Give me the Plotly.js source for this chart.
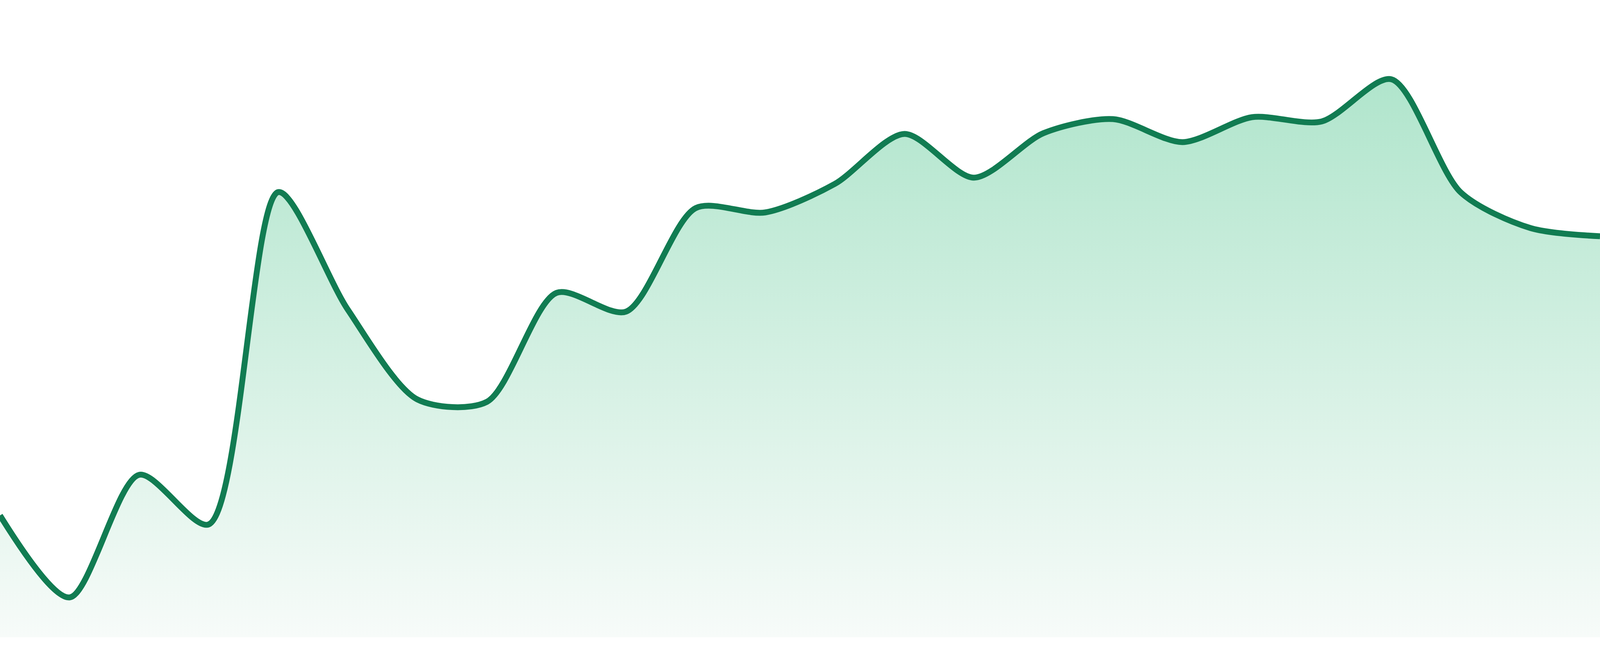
<!DOCTYPE html>
<html>
<head>
<meta charset="utf-8">
<script src="https://cdn.plot.ly/plotly-3.0.1.min.js"></script>
<style>
  html, body { margin: 0; padding: 0; background: #ffffff; overflow: hidden; }
  #chart { width: 100vw; height: 100vh; }
</style>
</head>
<body>
<div id="chart"></div>
<script>
// 24 evenly spaced samples (height above baseline)
const steps = [0, 1, 2, 3, 4, 5, 6, 7, 8, 9, 10, 11, 12, 13, 14, 15, 16, 17, 18, 19, 20, 21, 22, 23];
const values = [312, 102, 416, 289, 1140, 839, 609, 603, 882, 834, 1099, 1088,
                1161, 1289, 1177, 1291, 1327, 1268, 1332, 1321, 1429, 1139, 1048, 1027];

const lineColor = '#117c52';
const fillTop = '#b0e5cc';
const fillBottom = '#f7fbf9';

// fit whatever window we get; reference is 4800x1680 with a 48px strip under the baseline
const W = window.innerWidth;
const H = window.innerHeight;
const k = H / 1680;

let trace = {
    x: steps,
    y: values,
    type: 'scatter',
    mode: 'lines',
    line: { color: lineColor, width: 15 * k, shape: 'spline', smoothing: 0.8 },
    fill: 'tozeroy',
    fillgradient: {
        type: 'vertical',
        start: 0,
        stop: Math.max(...values),
        colorscale: [[0, fillBottom], [1, fillTop]]
    },
    hoverinfo: 'skip'
};

let layout = {
    width: W,
    height: H,
    margin: { l: 0, r: 0, t: 0, b: 48 * k },
    paper_bgcolor: '#ffffff',
    plot_bgcolor: '#ffffff',
    showlegend: false,
    xaxis: {
        range: [0, steps.length - 1],
        visible: false,
        showgrid: false,
        zeroline: false
    },
    yaxis: {
        range: [0, 1632],
        visible: false,
        showgrid: false,
        zeroline: false
    }
};

Plotly.newPlot('chart', [trace], layout, { staticPlot: true, displayModeBar: false });
</script>
</body>
</html>
